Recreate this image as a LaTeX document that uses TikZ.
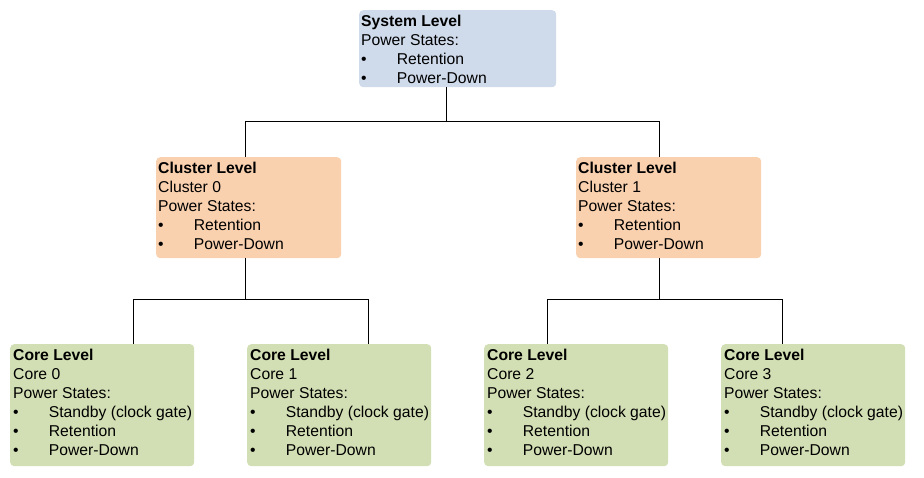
\documentclass[tikz,border=0pt]{standalone}
\usepackage{fontspec}
\setmainfont{Liberation Sans}
\usepackage{xcolor}

\definecolor{sysfill}{HTML}{CFDAEA}
\definecolor{clufill}{HTML}{FAD1AF}
\definecolor{corefill}{HTML}{D2DEB3}
\newcommand{\pitem}[1]{\makebox[35.7pt][l]{\textbullet}#1}

\begin{document}
\begin{tikzpicture}[x=1pt,y=-1pt,
  lvlbox/.style={rectangle,rounded corners=4pt,draw=none,inner sep=0pt,anchor=north west},
  sysbox/.style={lvlbox,fill=sysfill,minimum width=197pt,minimum height=77pt},
  clubox/.style={lvlbox,fill=clufill,minimum width=185pt,minimum height=101pt},
  corebox/.style={lvlbox,fill=corefill,minimum width=184pt,minimum height=122pt},
  lvltext/.style={anchor=north west,inner sep=0pt,align=left,font=\fontsize{15.7}{19}\selectfont},
  wire/.style={draw=black,line width=1pt}]
 	\useasboundingbox (0,0) rectangle (924,478);
 	% system
 	\node [sysbox] (sys) at (359,10) {};
 	\node [lvltext] (systxt) at ([shift={(2,5)}]sys.north west) {\textbf{System Level}\\Power States:\\\pitem{Retention}\\\pitem{Power-Down}};
 	% clusters
 	\node [clubox] (cl0) at (156,157) {};
 	\node [lvltext] (cl0txt) at ([shift={(2,5)}]cl0.north west) {\textbf{Cluster Level}\\Cluster 0\\Power States:\\\pitem{Retention}\\\pitem{Power-Down}};
 	\node [clubox] (cl1) at (576,157) {};
 	\node [lvltext] (cl1txt) at ([shift={(2,5)}]cl1.north west) {\textbf{Cluster Level}\\Cluster 1\\Power States:\\\pitem{Retention}\\\pitem{Power-Down}};
 	% cores
 	\node [corebox] (core0) at (10,344) {};
 	\node [lvltext] (core0txt) at ([shift={(3,5)}]core0.north west) {\textbf{Core Level}\\Core 0\\Power States:\\\pitem{Standby (clock gate)}\\\pitem{Retention}\\\pitem{Power-Down}};
 	\node [corebox] (core1) at (247,344) {};
 	\node [lvltext] (core1txt) at ([shift={(3,5)}]core1.north west) {\textbf{Core Level}\\Core 1\\Power States:\\\pitem{Standby (clock gate)}\\\pitem{Retention}\\\pitem{Power-Down}};
 	\node [corebox] (core2) at (484,344) {};
 	\node [lvltext] (core2txt) at ([shift={(3,5)}]core2.north west) {\textbf{Core Level}\\Core 2\\Power States:\\\pitem{Standby (clock gate)}\\\pitem{Retention}\\\pitem{Power-Down}};
 	\node [corebox] (core3) at (721,344) {};
 	\node [lvltext] (core3txt) at ([shift={(3,5)}]core3.north west) {\textbf{Core Level}\\Core 3\\Power States:\\\pitem{Standby (clock gate)}\\\pitem{Retention}\\\pitem{Power-Down}};
 	% connectors
 	\draw [wire] ([xshift=-11]sys.south) -- ++(0,34) -| ([xshift=-3.2]cl0.north);
 	\draw [wire] ([xshift=-11]sys.south) -- ++(0,34) -| ([xshift=-9.2]cl1.north);
 	\draw [wire] ([xshift=-3.2]cl0.south) -- ++(0,41) -| ([xshift=31.2]core0.north);
 	\draw [wire] ([xshift=-3.2]cl0.south) -- ++(0,41) -| ([xshift=28.8]core1.north);
 	\draw [wire] ([xshift=-9.2]cl1.south) -- ++(0,41) -| ([xshift=-28.7]core2.north);
 	\draw [wire] ([xshift=-9.2]cl1.south) -- ++(0,41) -| ([xshift=-31.2]core3.north);
\end{tikzpicture}
\end{document}
